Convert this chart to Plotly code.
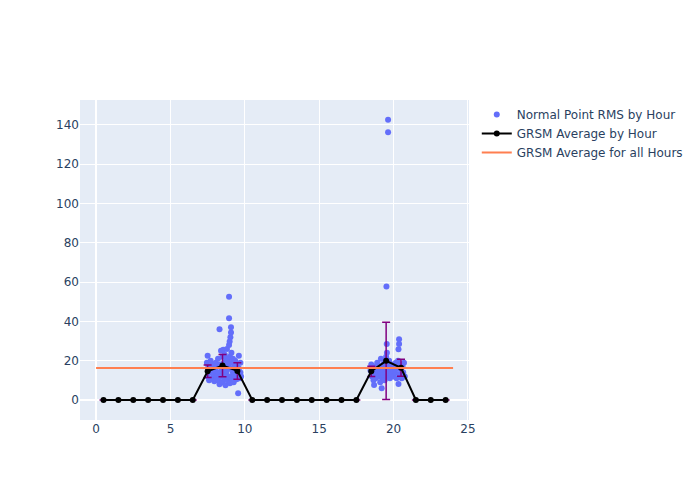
import plotly.graph_objects as go

# Normal point RMS by hour (scatter)
pt_hour = [
    7.45, 7.5, 7.55, 7.5, 7.6, 7.65, 7.7, 7.75, 7.8, 7.85, 7.9, 7.95, 8.0, 8.05, 8.1, 8.15,
    8.2, 8.2, 8.25, 8.3, 8.3, 8.35, 8.4, 8.4, 8.45, 8.5, 8.5, 8.55, 8.55, 8.6, 8.6, 8.65,
    8.7, 8.7, 8.75, 8.75, 8.8, 8.8, 8.85, 8.85, 8.94, 8.94, 8.94, 8.9, 8.98, 8.95, 9.03, 9.0,
    9.0, 9.07, 9.07, 9.05, 9.1, 9.1, 9.15, 9.2, 9.2, 9.25, 9.3, 9.3, 9.35, 9.4, 9.45, 9.5,
    9.55, 9.55, 9.6, 9.6, 9.65, 9.7, 9.7, 9.75,
    18.45, 18.5, 18.55, 18.69, 18.6, 18.65, 18.7, 18.75, 18.8, 18.85, 18.9, 18.95, 19.0, 19.05,
    19.1, 19.1, 19.15, 19.2, 19.2, 19.25, 19.3, 19.3, 19.35, 19.4, 19.4, 19.45, 19.5, 19.5,
    19.52, 19.54, 19.55, 19.55, 19.6, 19.63, 19.63, 19.65, 19.7, 19.75, 19.8, 19.85, 19.9,
    19.95, 20.0, 20.05, 20.1, 20.15, 20.2, 20.25, 20.3, 20.33, 20.33, 20.37, 20.37, 20.4,
    20.45, 20.5, 20.55, 20.6, 20.65, 20.7, 20.75,
]
pt_rms = [
    19, 22.5, 17, 12, 10, 14, 20, 16, 11, 18, 13, 9.5, 15, 19, 12, 17,
    10, 21, 14, 36, 8, 18, 25, 12, 16, 22, 9, 25.5, 14, 19, 11, 23,
    17, 7.5, 21, 13, 26, 15, 20, 10, 52.6, 41.6, 28, 18, 29.7, 12, 31.9, 22,
    8.5, 34.3, 37, 16, 24, 11, 19, 14, 21, 9, 17, 12, 20, 15, 10.5, 18,
    3.4, 13, 22.5, 16, 11, 14, 19, 12,
    15, 18, 12, 7.6, 16, 10, 14, 17, 11, 13, 19, 15, 12, 17,
    9, 14, 21, 5.9, 16, 11, 18, 13, 15, 20, 10, 14, 22, 16,
    57.7, 28.5, 24, 12, 18, 142.6, 136.3, 14, 20, 11, 16, 13, 18,
    15, 12, 17, 14, 19, 11, 16, 20, 25.8, 8.1, 30.9, 28.5, 13,
    18, 15, 11, 17, 14, 19, 12,
]

# GRSM average by hour
avg_hour = [h + 0.5 for h in range(24)]
avg_rms = [0, 0, 0, 0, 0, 0, 0, 14.6, 17.5, 14.8, 0, 0,
           0, 0, 0, 0, 0, 0, 14.6, 19.9, 16.4, 0, 0, 0]
avg_err = [0, 0, 0, 0, 0, 0, 0, 3.2, 5.7, 4.2, 0, 0,
           0, 0, 0, 0, 0, 0, 2.6, 19.7, 4.3, 0, 0, 0]

# GRSM average for all hours
all_hours_x = [0, 24]
all_hours_avg = 16.3

fig = go.Figure()
fig.add_trace(go.Scatter(
    x=pt_hour, y=pt_rms, mode="markers", name="Normal Point RMS by Hour",
    marker=dict(color="#636efa", size=6),
))
fig.add_trace(go.Scatter(
    x=avg_hour, y=avg_rms, mode="lines+markers", name="GRSM Average by Hour",
    line=dict(color="black", width=2), marker=dict(color="black", size=6),
    error_y=dict(type="data", array=avg_err, visible=True, color="purple",
                 thickness=1.5, width=4),
))
fig.add_trace(go.Scatter(
    x=all_hours_x, y=[all_hours_avg] * len(all_hours_x), mode="lines",
    name="GRSM Average for all Hours", line=dict(color="coral", width=2),
))
fig.update_layout(
    width=692, height=492,
    margin=dict(l=72, r=224, t=92, b=80),
    font=dict(family="DejaVu Sans"),
    xaxis=dict(range=[-1.08, 25.07], dtick=5),
    yaxis=dict(range=[-10.2, 152.7], dtick=20),
)
fig.write_html("out.html")
